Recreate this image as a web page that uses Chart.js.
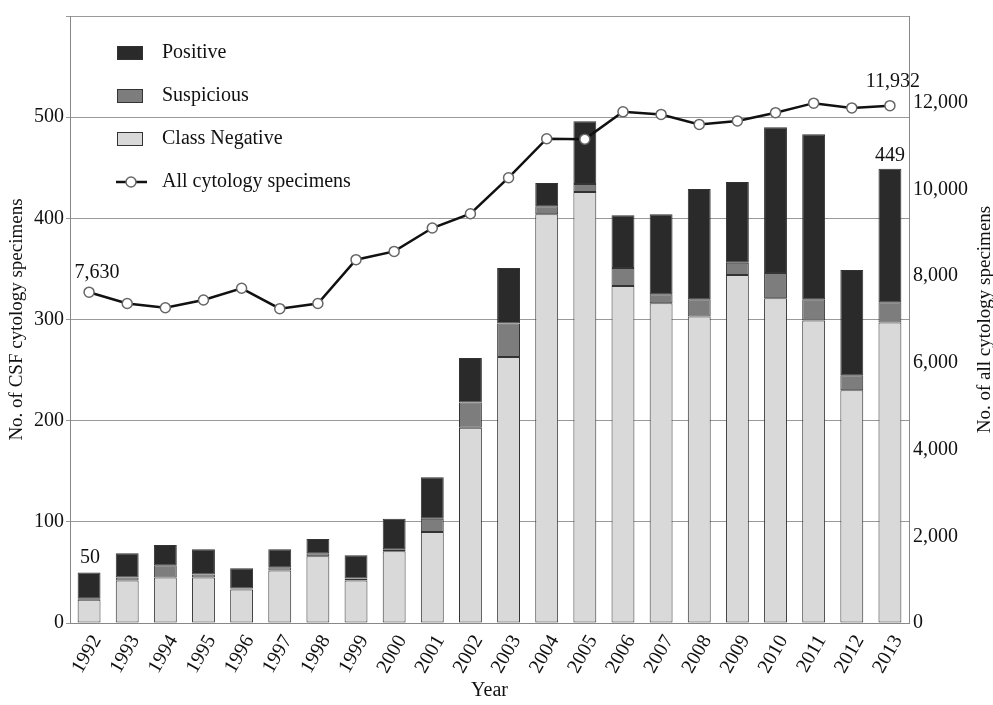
<!DOCTYPE html>
<html>
<head>
<meta charset="utf-8">
<title>CSF cytology specimens</title>
<script src="https://cdn.jsdelivr.net/npm/chart.js@4.4.0/dist/chart.umd.min.js"></script>
<style>
    html, body { margin: 0; padding: 0; background: #fff; }
    #wrap { width: 993px; height: 705px; }
</style>
</head>
<body>
<div id="wrap"><canvas id="cytoChart" width="993" height="705"></canvas></div>
<script>
// data
const years = ['1992', '1993', '1994', '1995', '1996', '1997', '1998', '1999', '2000', '2001', '2002',
    '2003', '2004', '2005', '2006', '2007', '2008', '2009', '2010', '2011', '2012', '2013'];
const negative = [23, 42, 45, 45, 33, 52, 66, 42, 71, 90, 193, 263, 404, 426, 333, 316, 303, 344, 321, 299, 230, 297];
const suspicious = [1, 3, 12, 3, 1, 3, 3, 2, 2, 13, 25, 33, 8, 8, 18, 9, 17, 12, 25, 21, 15, 20];
const positive = [26, 24, 20, 25, 20, 18, 14, 23, 30, 41, 44, 55, 23, 62, 52, 79, 109, 80, 144, 163, 104, 132];
const allSpecimens = [7630, 7370, 7270, 7450, 7720, 7250, 7370, 8380, 8570, 9110, 9440, 10270, 11170, 11160,
    11790, 11730, 11500, 11580, 11770, 11990, 11880, 11932];

const FONT = "'Liberation Serif', 'Times New Roman', serif";
const TXT = '#111';
const RIGHT_TITLE = 'No. of all cytology specimens';

// legend is drawn inside the plot, top left
const insideLegend = {
    id: 'insideLegend',
    afterDraw(chart) {
        const ctx = chart.ctx;
        const a = chart.chartArea;
        const items = [
            { label: 'Positive', ds: 2 },
            { label: 'Suspicious', ds: 1 },
            { label: 'Class Negative', ds: 0 },
            { label: 'All cytology specimens', ds: 3 }
        ];
        ctx.save();
        ctx.font = '20px ' + FONT;
        ctx.textBaseline = 'middle';
        ctx.textAlign = 'left';
        items.forEach((it, i) => {
            const ds = chart.data.datasets[it.ds];
            const y = a.top + 37 + i * 43;
            const x = a.left + 47;
            if (ds.type === 'line') {
                ctx.strokeStyle = ds.borderColor;
                ctx.lineWidth = ds.borderWidth;
                ctx.beginPath();
                ctx.moveTo(x - 1, y);
                ctx.lineTo(x + 30, y);
                ctx.stroke();
                ctx.beginPath();
                ctx.arc(x + 14, y, 5, 0, Math.PI * 2);
                ctx.fillStyle = '#fff';
                ctx.fill();
                ctx.strokeStyle = ds.pointBorderColor;
                ctx.lineWidth = 1.5;
                ctx.stroke();
            } else {
                ctx.fillStyle = ds.backgroundColor;
                ctx.fillRect(x, y - 7, 26, 14);
                ctx.strokeStyle = ds.borderColor;
                ctx.lineWidth = 1;
                ctx.strokeRect(x + 0.5, y - 6.5, 25, 13);
            }
            ctx.fillStyle = TXT;
            ctx.fillText(it.label, a.left + 92, y);
        });

        // right axis title reads bottom to top, like the left one
        const r = chart.scales.y1;
        ctx.translate(r.right - 8, (a.top + a.bottom) / 2);
        ctx.rotate(-Math.PI / 2);
        ctx.font = '19px ' + FONT;
        ctx.textAlign = 'center';
        ctx.fillText(RIGHT_TITLE, 0, 0);
        ctx.restore();
    }
};

// value labels on the first and last year
const endLabels = {
    id: 'endLabels',
    afterDatasetsDraw(chart) {
        const ctx = chart.ctx;
        const last = years.length - 1;
        const top = chart.getDatasetMeta(2).data;
        const pts = chart.getDatasetMeta(3).data;
        const total = i => negative[i] + suspicious[i] + positive[i];
        ctx.save();
        ctx.font = '20px ' + FONT;
        ctx.fillStyle = TXT;
        ctx.textAlign = 'center';
        ctx.textBaseline = 'bottom';
        ctx.fillText(String(total(0)), top[0].x + 1, top[0].y - 5);
        ctx.fillText(String(total(last)), top[last].x, top[last].y - 3);
        ctx.fillText(allSpecimens[0].toLocaleString('en-US'), pts[0].x + 8, pts[0].y - 9);
        ctx.fillText(allSpecimens[last].toLocaleString('en-US'), pts[last].x + 3, pts[last].y - 14);
        ctx.restore();
    }
};

const barStyle = {
    type: 'bar',
    yAxisID: 'y',
    borderColor: '#333',
    borderWidth: 1,
    borderSkipped: false,
    barPercentage: 0.6,
    categoryPercentage: 1.0,
    order: 1
};

new Chart(document.getElementById('cytoChart').getContext('2d'), {
    data: {
        labels: years,
        datasets: [
            { ...barStyle, label: 'Class Negative', data: negative, backgroundColor: '#d9d9d9' },
            { ...barStyle, label: 'Suspicious', data: suspicious, backgroundColor: '#7d7d7d' },
            { ...barStyle, label: 'Positive', data: positive, backgroundColor: '#2a2a2a' },
            {
                type: 'line',
                label: 'All cytology specimens',
                data: allSpecimens,
                yAxisID: 'y1',
                borderColor: '#111',
                borderWidth: 2.5,
                pointRadius: 5,
                pointBackgroundColor: '#fff',
                pointBorderColor: '#666',
                pointBorderWidth: 1.5,
                tension: 0,
                order: 0
            }
        ]
    },
    options: {
        responsive: false,
        animation: false,
        layout: { padding: { top: 12, right: 0, left: 0, bottom: 0 } },
        plugins: {
            legend: { display: false },
            tooltip: { enabled: false }
        },
        scales: {
            x: {
                stacked: true,
                grid: { display: false },
                border: { display: true, color: '#888' },
                ticks: {
                    color: TXT,
                    font: { family: FONT, size: 20 },
                    minRotation: 60,
                    maxRotation: 60,
                    labelOffset: 8,
                    padding: 0
                },
                title: { display: true, text: 'Year', color: TXT, font: { family: FONT, size: 20 }, padding: 2 },
                afterFit: s => { s.height = 82; }
            },
            y: {
                stacked: true,
                position: 'left',
                min: 0,
                max: 600,
                grid: { color: '#999', lineWidth: 1, tickLength: 4 },
                border: { display: true, color: '#888' },
                ticks: {
                    stepSize: 100,
                    color: TXT,
                    padding: 2,
                    font: { family: FONT, size: 20 },
                    callback: v => (v === 600 ? '' : v)
                },
                title: {
                    display: true,
                    text: 'No. of CSF cytology specimens',
                    color: TXT,
                    font: { family: FONT, size: 19 },
                    padding: { top: 6, bottom: 0 }
                },
                afterFit: s => { s.width = 70; }
            },
            y1: {
                position: 'right',
                min: 0,
                max: 14000,
                grid: { display: false, drawOnChartArea: false, drawTicks: false },
                border: { display: true, color: '#888' },
                ticks: {
                    stepSize: 2000,
                    color: TXT,
                    padding: 4,
                    font: { family: FONT, size: 20 },
                    callback: v => (v === 14000 ? '' : v.toLocaleString('en-US'))
                },
                title: { display: false },
                afterFit: s => { s.width = 84; }
            }
        }
    },
    plugins: [insideLegend, endLabels]
});
</script>
</body>
</html>
